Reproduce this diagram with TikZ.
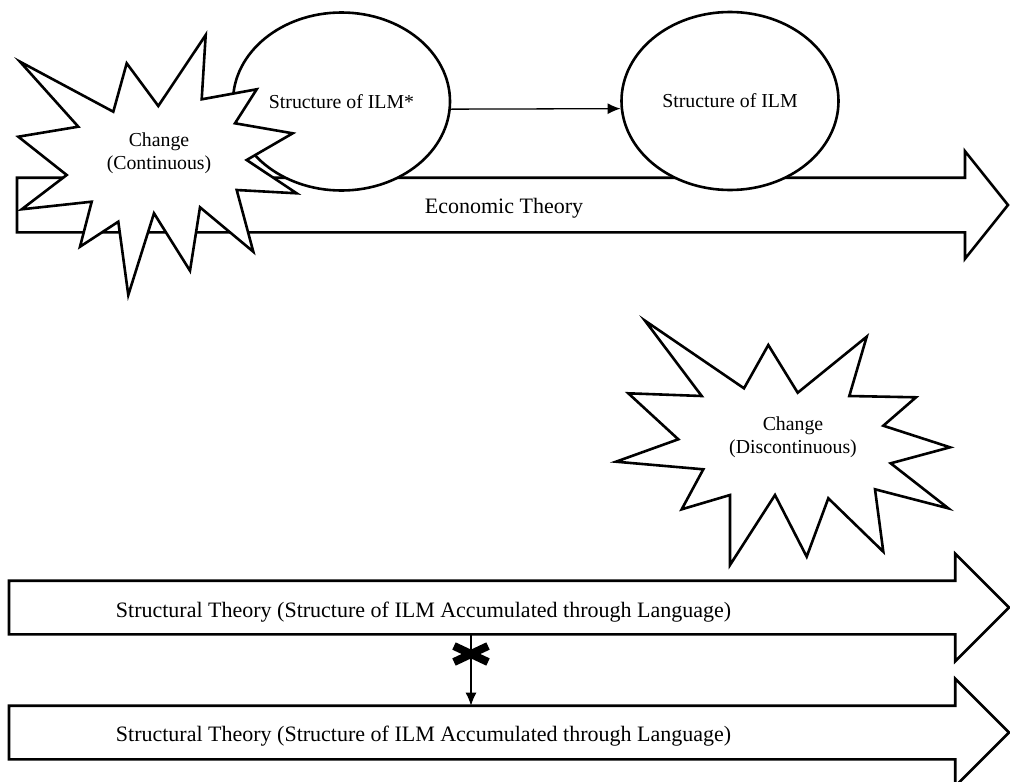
\documentclass[tikz,border=0pt]{standalone}
\usepackage{fontspec}
\setmainfont{Liberation Serif}
\usetikzlibrary{shapes.geometric,shapes.arrows,arrows.meta}

\begin{document}
\begin{tikzpicture}[x=1pt,y=-1pt]
\tikzstyle{every node}=[inner sep=0pt,align=center]
\tikzstyle{bigarrow}=[draw,line width=2.6pt,fill=white,single arrow,anchor=tail,
outer sep=0pt,inner xsep=0pt,inner ysep=25.5pt,single arrow head extend=27pt]
\tikzstyle{oval}=[draw,ellipse,line width=2.6pt,fill=white,minimum width=217pt,
minimum height=178pt,font=\fontsize{19.8}{23}\selectfont]
\tikzstyle{burst}=[draw,line width=2.6pt,fill=white]
\tikzstyle{small}=[font=\fontsize{19.8}{23}\selectfont]
\tikzstyle{big}=[font=\fontsize{22}{26}\selectfont]
\tikzstyle{link}=[line width=1.3pt,-{Latex[length=13pt,width=11pt]}]

\useasboundingbox (0,0) rectangle (1010,782);

% economic theory
\draw (17,205)  node (eco) [bigarrow,minimum height=991pt,inner ysep=26pt,
single arrow head extend=26.5pt,single arrow tip angle=102.7] {};
\draw (504,208)  node (ecoT) [big] {Economic Theory};
\draw (341.5,101.5)  node (ilm1) [oval] {Structure of ILM*};
\draw (730,101)  node (ilm2) [oval] {Structure of ILM};
\draw [link] (ilm1.-4) to (ilm2.184);
\draw [burst] (20,61.7) -- (113.3,111.7) -- (126.7,63.3) -- (158.3,106) -- (205.7,35)
 -- (201.7,99.3) -- (256.7,89.3) -- (235,123.3) -- (292.7,133.3) -- (246.7,160)
 -- (296.7,193.3) -- (236.7,190) -- (253.3,251.7) -- (200,207.3) -- (190,270.7)
 -- (154,213.3) -- (128.3,295) -- (118.3,221.7) -- (80,246.7) -- (91.7,201.7)
 -- (21.7,209.3) -- (66.7,175) -- (18.3,136.7) -- (78.3,126.7) -- cycle;
\draw (159,153)  node (chg1) [small] {Change\\(Continuous)};

% structural theory
\draw [burst] (645,320.7) -- (744,388.3) -- (768.3,345) -- (797.7,392.7) -- (866.7,336.7)
 -- (849.3,396) -- (916,397.3) -- (883.3,425.7) -- (950,447.3) -- (890.7,463.3)
 -- (948.3,508.3) -- (875,489.3) -- (883.3,551.7) -- (828.3,498.3) -- (806.7,556.7)
 -- (775,495) -- (730,565) -- (730,495) -- (681.7,509.3) -- (703.3,469.3)
 -- (616,461.7) -- (678.3,439.3) -- (628.3,393.3) -- (701.7,396) -- cycle;
\draw (793,437)  node (chg2) [small] {Change\\(Discontinuous)};
\draw (9,607.5)  node (st1) [bigarrow,minimum height=1000pt] {};
\draw (9,732.5)  node (st2) [bigarrow,minimum height=1000pt] {};
\draw (423.5,612)  node (st1T) [big] {Structural Theory (Structure of ILM Accumulated through Language)};
\draw (423.5,736)  node (st2T) [big] {Structural Theory (Structure of ILM Accumulated through Language)};
\coordinate (cut) at (471,654);
\draw [link] (cut |- st1.270) to (cut |- st2.90);
\draw [line width=8pt,shift={(cut)}] (-17,-8) -- (17,8) (-17,8) -- (17,-8);
\end{tikzpicture}
\end{document}
